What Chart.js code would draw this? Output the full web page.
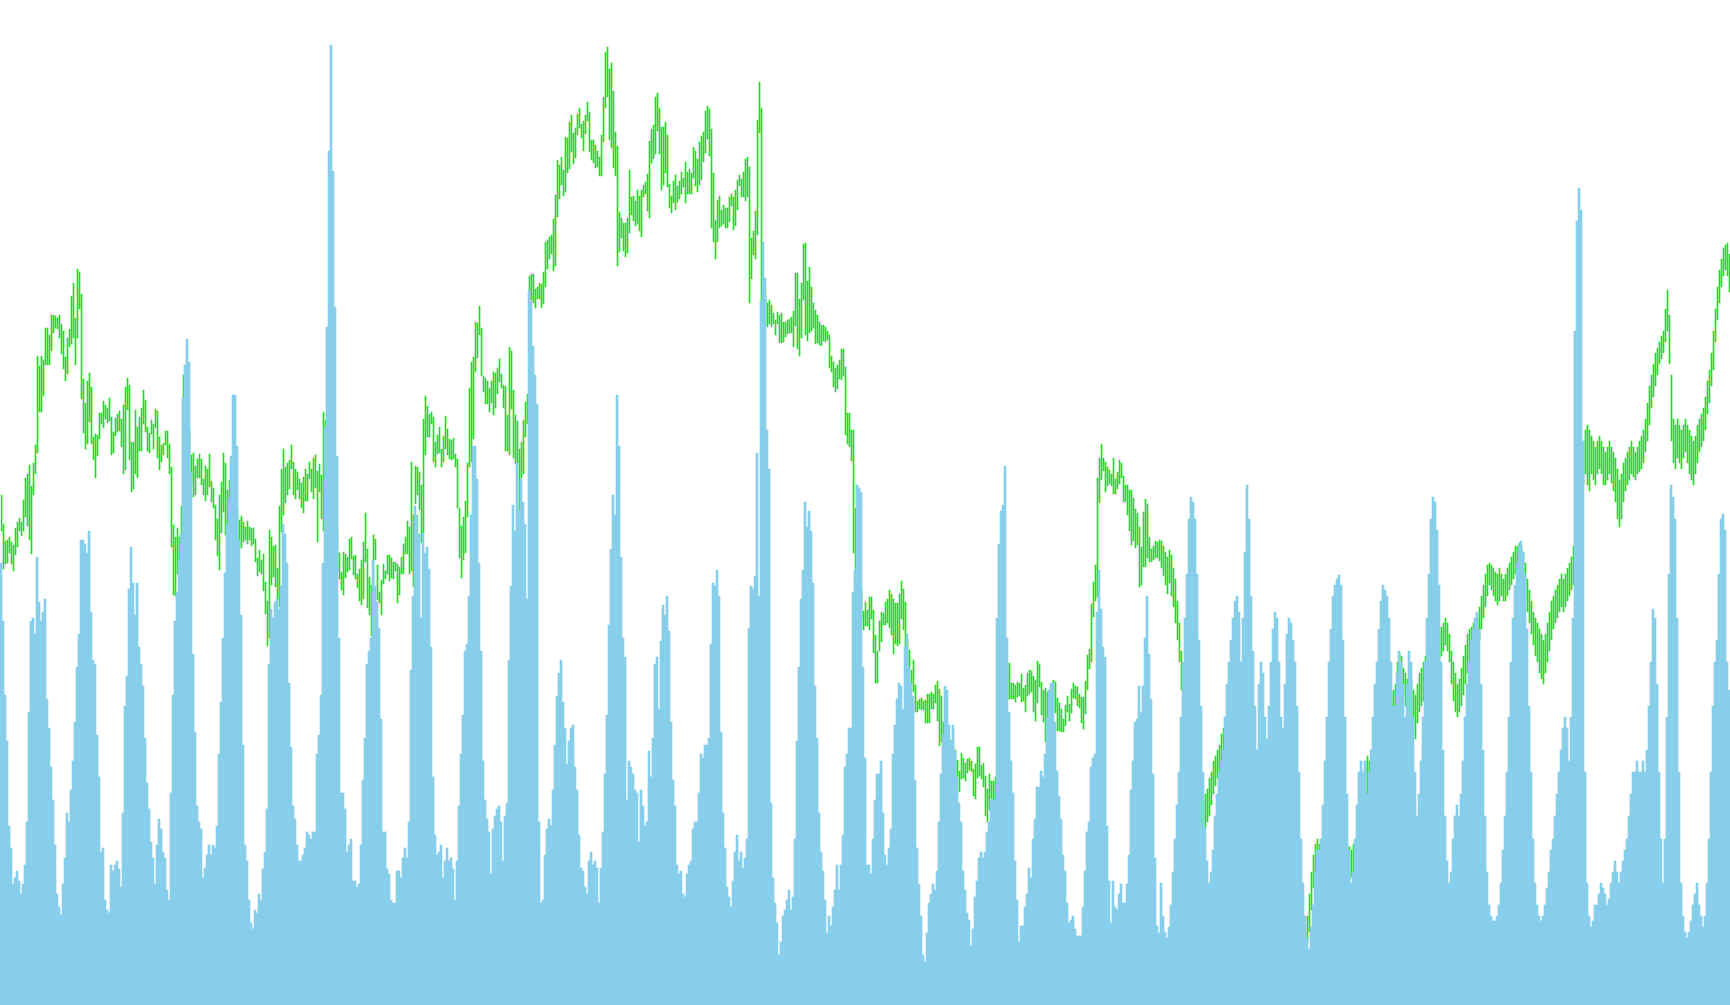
<!DOCTYPE html>
<html>
<head>
<meta charset="utf-8">
<script src="https://cdn.jsdelivr.net/npm/chart.js@4.4.1/dist/chart.umd.min.js"></script>
<style>
html, body { margin: 0; padding: 0; background: #ffffff; }
#wrap { width: 1730px; height: 1005px; position: relative; }
</style>
</head>
<body>
<div id="wrap"><canvas id="main_chart"></canvas></div>
<script>
// daily volume (blue bars)
const volumes = [
442,384,310,264,179,157,121,127,134,124,111,121,140,183,293,384,387,371,448,403,384,393,406,306,277,238,205,160,111,98,90,121,147,192,183,215,244,283,338,371,465,465,461,452,474,393,345,341,270,228,153,157,105,95,92,140,134,140,144,136,118,192,299,329,416,458,422,390,422,358,341,319,267,
222,196,163,147,121,160,186,176,153,147,115,105,212,310,384,413,445,471,607,640,666,643,533,351,273,199,183,176,127,137,150,160,150,160,157,179,251,303,367,432,481,507,549,610,610,559,465,390,260,160,144,105,82,76,95,92,111,105,136,153,196,341,396,387,403,406,396,419,481,471,442,322,
258,199,186,160,144,144,150,157,173,170,166,173,173,251,270,310,442,578,678,854,960,834,698,549,367,212,212,196,153,160,166,124,124,118,121,160,225,267,341,354,367,445,419,403,377,286,173,173,136,131,105,102,102,134,134,127,147,157,147,183,335,409,499,490,471,387,471,452,458,436,358,228,170,
150,153,160,127,144,157,144,147,136,105,144,199,251,290,354,361,409,490,559,559,526,442,354,244,205,186,173,131,176,189,196,199,183,144,189,202,345,419,500,474,542,494,526,503,481,406,714,704,659,630,601,183,102,105,150,176,186,179,215,260,309,332,345,303,277,241,264,277,280,238,215,170,
137,134,118,111,144,153,140,144,137,102,137,173,231,290,380,456,510,490,610,559,448,367,348,205,244,238,231,215,212,163,215,199,179,183,254,228,267,341,348,296,364,400,390,409,374,283,225,199,140,131,134,111,108,131,140,144,176,183,183,212,251,247,260,260,267,361,422,419,435,409,273,192,157,
118,108,98,124,153,170,144,153,137,147,166,377,419,416,429,552,409,704,763,727,575,536,202,127,102,82,50,63,89,95,105,115,95,108,166,264,338,406,435,503,478,494,474,422,319,267,192,153,134,105,72,89,79,98,115,140,115,140,170,238,251,277,277,413,435,520,517,513,338,247,140,140,
131,166,205,231,231,244,192,150,140,157,176,251,280,306,322,319,296,358,371,338,322,309,225,157,121,89,50,43,72,102,111,121,115,134,183,231,270,319,315,280,264,280,254,228,202,183,134,115,92,85,59,76,108,124,147,153,147,153,173,183,205,205,205,387,461,494,500,539,367,293,244,212,144,
105,63,79,79,98,111,137,127,166,186,218,218,234,228,251,286,315,322,322,283,234,209,186,150,134,102,82,85,89,76,69,69,69,98,134,173,183,238,247,251,393,435,396,358,348,179,124,82,124,98,95,111,121,102,102,121,150,215,244,283,286,319,293,319,367,409,351,306,231,147,79,72,
122,89,73,67,78,100,133,166,200,233,288,343,387,431,486,508,503,486,431,365,299,233,178,144,122,133,155,
189,211,233,244,255,288,321,343,365,387,404,409,393,343,387,453,520,486,409,354,299,255,321,343,
332,288,266,299,343,376,393,387,343,288,277,321,371,387,382,365,343,299,233,166,122,89,67,56,
78,100,133,155,155,166,200,244,288,343,376,409,420,426,430,420,365,288,211,155,122,133,166,200,
233,244,233,244,211,233,255,288,321,343,376,404,420,415,409,387,343,299,299,332,354,343,321,288,
321,354,343,288,233,189,211,244,288,343,387,431,486,508,503,475,420,343,255,189,144,122,133,166,
189,200,189,211,244,288,321,343,365,376,387,393,376,321,255,189,133,100,89,84,84,89,100,122,
155,189,233,288,343,387,420,442,459,464,453,431,376,299,233,166,122,100,89,84,89,100,117,133,
155,166,189,211,233,255,277,288,277,244,288,387,674,784,817,795,564,233,122,89,78,84,100,100,
111,122,117,111,100,106,122,133,144,133,122,133,144,155,166,189,211,233,233,244,233,233,244,233,
255,299,343,396,387,321,233,166,122,166,288,431,520,508,486,387,233,122,89,73,67,73,84,100,
111,122,100,89,78,89,122,166,233,299,343,365,431,486,491,475,343,315
];

// daily price range (green bars)
const highs = [
510,481,464,465,468,463,460,477,483,487,483,505,527,531,540,519,542,560,649,639,
649,645,677,677,670,690,690,689,687,690,681,674,648,667,676,709,722,687,736,733,
711,626,602,624,632,618,568,571,570,592,592,604,600,597,607,588,573,587,591,594,
586,600,618,627,620,563,563,595,578,588,597,615,605,578,572,585,581,596,594,568,
560,562,574,574,561,538,480,468,477,468,499,630,605,585,575,550,552,539,546,551,
546,526,539,536,551,524,517,500,486,510,523,552,542,515,525,530,520,510,495,485,
489,483,478,484,478,477,477,466,447,455,445,451,423,404,475,468,459,460,437,499,
536,556,538,542,545,560,543,536,533,526,522,528,536,531,543,536,547,550,534,541,
530,593,585,565,555,535,515,495,475,452,433,453,451,448,466,468,449,450,431,436,
445,463,492,456,428,420,470,466,440,413,425,441,434,450,450,447,443,443,441,438,
448,461,468,484,478,543,490,539,538,533,520,586,609,599,591,593,588,563,570,578,
556,569,589,576,566,565,567,551,546,497,479,488,504,542,617,643,648,683,682,699,
677,629,627,624,617,624,633,632,637,646,631,620,619,590,658,654,615,590,584,556,
563,585,603,611,729,731,731,716,718,722,721,733,763,765,768,770,786,810,845,840,
848,835,868,867,883,890,872,877,891,897,881,884,890,903,893,865,865,860,854,848,
870,908,953,958,936,942,914,873,859,793,787,782,782,787,835,808,809,804,815,809,
815,820,823,831,864,876,880,908,912,897,878,878,883,870,821,809,824,830,819,824,
833,827,843,833,836,832,858,854,846,863,869,873,894,899,896,876,832,785,805,809,
795,800,797,797,808,811,808,815,825,830,826,833,846,848,838,767,774,794,885,923,
897,715,710,702,705,700,692,685,693,690,692,683,683,685,686,688,694,732,732,706,
722,761,762,724,738,718,702,695,690,683,680,680,678,674,670,649,643,637,640,645,
656,656,638,592,592,575,575,497,455,435,415,394,403,395,408,408,395,370,354,384,
393,392,403,406,415,411,406,402,402,411,424,416,403,365,355,335,345,320,304,306,
307,304,305,311,311,313,311,320,324,316,309,283,275,270,265,265,260,255,245,234,
252,247,242,246,247,244,236,241,258,258,240,242,229,216,231,224,224,228,245,265,
285,305,325,340,342,322,322,320,323,322,331,317,320,332,335,334,329,325,344,341,
323,315,317,313,315,320,325,323,307,302,296,286,300,309,301,316,322,319,318,311,
308,308,324,350,356,401,423,440,527,547,561,547,543,538,535,531,547,526,533,545,
542,529,520,520,515,515,507,496,492,478,458,493,506,501,468,456,459,464,463,465,
464,459,453,448,455,450,437,426,404,382,354,332,310,288,266,249,233,227,222,216,
211,205,211,216,227,233,244,249,255,260,271,277,271,266,260,255,249,244,238,233,
227,222,216,211,205,200,194,189,183,178,172,166,161,155,150,144,139,133,128,122,
117,111,106,100,95,89,89,87,84,80,78,76,73,89,111,133,150,161,166,161,
166,172,178,180,183,183,180,178,175,172,169,166,164,161,158,155,161,166,172,189,
211,233,244,249,244,255,260,266,271,277,282,288,293,299,304,310,315,321,343,352,
349,337,332,326,321,326,315,310,321,332,337,343,349,354,360,363,365,367,371,374,
378,382,387,382,371,354,343,332,321,326,337,349,360,371,376,378,382,376,387,398,
409,420,431,440,442,440,437,433,431,437,431,426,431,437,442,448,453,459,459,462,
459,453,442,426,415,404,393,387,382,376,371,365,371,382,393,404,409,415,420,426,
431,426,431,437,442,448,459,475,497,520,542,564,575,580,575,569,564,558,564,569,
564,558,553,558,564,558,553,547,536,525,531,542,547,553,558,564,558,553,558,564,
569,575,586,602,619,630,641,652,657,663,669,674,696,715,690,630,586,580,586,580,
575,580,586,580,575,569,564,569,580,586,591,597,608,624,635,652,674,696,718,735,
746,757,760,762,751
];
const lows = [
474,436,441,442,452,441,434,450,458,474,469,474,488,479,465,451,510,531,552,593,
593,609,640,640,640,654,672,677,676,667,651,636,624,631,658,661,667,640,667,696,
606,572,556,561,583,561,545,527,549,566,581,577,586,582,584,550,552,569,573,574,
558,531,535,595,545,513,516,531,527,554,554,581,573,554,552,571,556,577,547,535,
543,550,560,547,531,458,410,409,431,445,471,585,560,545,535,520,508,510,527,527,
520,510,504,510,518,503,497,465,449,435,472,493,470,479,490,495,485,475,465,460,
457,463,465,461,465,459,461,443,429,433,431,414,391,359,367,420,428,418,405,398,
473,490,502,510,516,536,510,506,515,506,497,492,504,504,526,513,506,517,463,513,
486,474,535,515,505,485,465,445,435,426,415,410,427,433,435,446,430,426,417,404,
400,406,443,397,390,369,396,445,405,402,390,421,426,431,424,427,426,434,402,410,
431,431,451,451,431,434,418,501,510,495,462,472,550,568,568,581,543,538,551,552,
538,543,556,550,546,545,546,538,497,447,427,445,452,488,538,543,566,633,647,670,
629,613,601,601,593,602,590,597,611,623,617,597,554,554,550,596,547,541,542,494,
527,531,568,581,702,705,702,697,706,706,697,701,718,736,746,751,734,739,788,806,
820,809,813,832,836,853,841,847,870,877,867,854,871,884,853,845,842,837,838,829,
829,863,897,908,865,857,837,829,739,753,767,754,748,752,772,790,784,779,781,774,
768,808,811,794,787,842,846,851,874,851,815,820,832,818,797,792,802,795,803,806,
811,818,802,811,811,811,827,819,813,820,825,843,852,866,849,777,763,746,763,777,
779,781,777,777,783,799,775,779,795,819,808,808,804,808,702,726,750,746,770,872,
704,685,680,678,681,678,681,670,681,662,662,663,668,671,672,672,658,679,656,649,
667,705,670,664,672,674,677,661,662,660,659,664,663,665,637,633,618,613,616,626,
625,629,570,561,558,544,452,436,405,395,385,375,379,379,375,386,352,322,322,354,
363,380,380,382,377,370,351,361,359,361,386,375,358,340,336,322,313,293,293,296,
295,295,282,282,282,296,296,302,284,259,263,260,245,240,235,235,230,230,228,213,
226,227,224,232,235,233,209,206,227,229,226,218,189,183,195,206,205,204,215,230,
250,265,285,305,306,306,306,303,308,309,303,304,293,309,311,313,293,284,302,318,
290,283,263,287,285,290,293,292,274,274,273,273,279,293,284,292,307,306,299,297,
282,276,291,315,336,343,388,404,408,502,525,534,513,519,521,519,511,511,516,521,
527,503,503,490,474,460,464,457,460,418,420,438,438,447,443,443,445,447,447,444,
437,429,420,411,422,409,398,382,365,343,315,293,271,249,233,216,200,189,183,178,
172,166,178,183,189,200,211,219,227,233,238,244,233,233,227,222,216,211,205,200,
194,189,183,178,172,166,161,155,150,144,139,133,128,122,117,111,106,100,95,89,
84,78,73,69,67,65,62,62,58,58,56,56,58,62,73,95,117,133,139,133,
142,144,150,153,155,153,150,147,144,142,139,133,131,128,125,128,133,133,139,150,
166,183,200,211,205,216,227,233,238,244,249,255,260,266,271,277,282,288,299,321,
315,310,299,293,288,277,271,266,282,293,299,304,310,315,321,326,332,334,337,343,
349,354,360,354,343,321,304,293,288,293,299,310,321,332,343,349,343,337,354,365,
376,387,398,409,420,415,409,404,400,404,409,404,404,409,415,420,426,431,426,431,
420,415,404,393,382,371,360,349,343,332,326,321,332,343,354,365,376,382,387,393,
398,393,398,404,409,415,420,437,453,475,497,520,531,520,514,531,525,520,531,536,
531,520,520,525,531,522,514,503,486,478,486,503,514,520,525,531,528,525,531,533,
536,542,553,564,580,597,608,619,630,641,646,652,663,674,641,564,542,536,547,542,
536,547,553,542,531,525,520,531,542,553,558,564,575,591,602,619,635,663,685,702,
718,729,735,729,713
];

const days = volumes.map((v, i) => 'Day ' + (i + 1));
const ranges = lows.map((lo, i) => [lo, highs[i]]);

// 1px green bars sit on whole pixels, not half ones
const pixelNudge = {
    id: 'pixelNudge',
    beforeDatasetDraw(chart, args) {
        if (args.index === 0) {
            chart.ctx.save();
            chart.ctx.translate(0.5, 0);
        }
    },
    afterDatasetDraw(chart, args) {
        if (args.index === 0) {
            chart.ctx.restore();
        }
    }
};

new Chart(document.getElementById('main_chart'), {
    type: 'bar',
    data: {
        labels: days,
        datasets: [
            {
                label: 'Price',
                data: ranges,
                yAxisID: 'yPrice',
                backgroundColor: 'rgb(30, 222, 30)',
                barThickness: 1,
                grouped: false,
                order: 2,
            }, {
                label: 'Volume',
                data: volumes,
                yAxisID: 'yVolume',
                backgroundColor: '#87ceeb',
                barPercentage: 1,
                categoryPercentage: 1,
                grouped: false,
                order: 1,
            }
        ]
    },
    options: {
        responsive: true,
        maintainAspectRatio: false,
        animation: false,
        layout: { padding: 0 },
        scales: {
            x: { display: false },
            yVolume: { display: false, min: 0, max: 1005 },
            yPrice: { display: false, min: 0, max: 1005 },
        },
        plugins: {
            legend: { display: false },
            tooltip: { enabled: false },
        }
    },
    plugins: [pixelNudge]
});
</script>
</body>
</html>
